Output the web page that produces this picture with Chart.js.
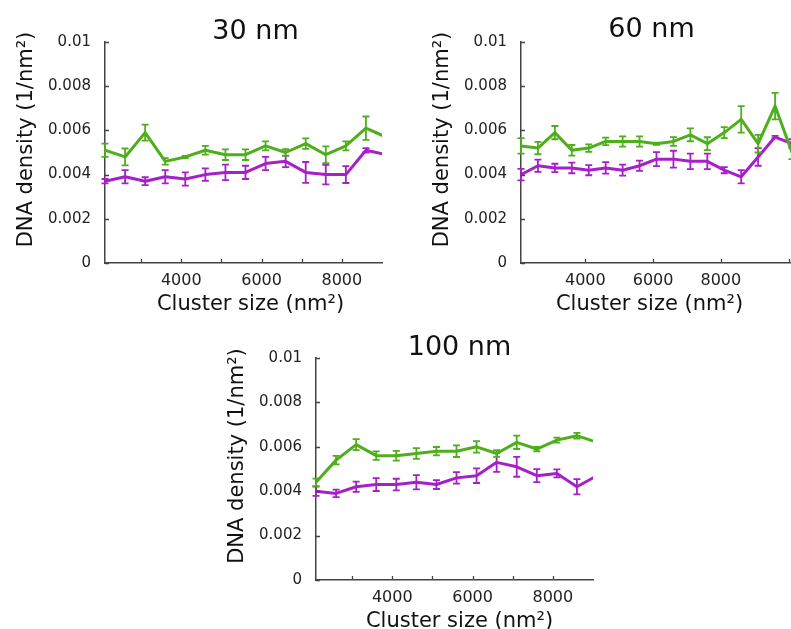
<!DOCTYPE html>
<html>
<head>
<meta charset="utf-8">
<script src="https://cdn.jsdelivr.net/npm/chart.js@4.4.1/dist/chart.umd.min.js"></script>
<style>
  html, body { margin: 0; padding: 0; background: #fff; overflow: hidden; width: 791px; height: 629px; position: relative; }
  canvas { position: absolute; }
</style>
</head>
<body>
<canvas id="panel30" width="400" height="320" style="left:0px;top:0px"></canvas>
<canvas id="panel60" width="410" height="320" style="left:400px;top:0px"></canvas>
<canvas id="panel100" width="400" height="309" style="left:210px;top:320px"></canvas>
<script>
// Cluster size bins (nm^2)
const clusterSize = [2100, 2600, 3100, 3600, 4100, 4600, 5100, 5600, 6100, 6600, 7100, 7600, 8100, 8600, 9100, 9600, 10100];
const xTicksFine = [3000, 4000, 5000, 6000, 7000, 8000];
const xTicksCoarse = [4000, 6000, 8000, 10000];
const xTickLabels = [4000, 6000, 8000];
const yTicks = [0, 0.002, 0.004, 0.006, 0.008, 0.01];

// 30 nm
const green30     = [0.0051, 0.0048, 0.0059, 0.0046, 0.0048, 0.0051, 0.0049, 0.0049, 0.0053, 0.0050, 0.0054, 0.0049, 0.0053, 0.0061, 0.0057];
const green30Err  = [0.0003, 0.00038, 0.00036, 0.00015, 0.00005, 0.0002, 0.00024, 0.00024, 0.0002, 0.00015, 0.00024, 0.00038, 0.0002, 0.00053, 0.0003];
const purple30    = [0.0037, 0.0039, 0.0037, 0.0039, 0.0038, 0.0040, 0.0041, 0.0041, 0.0045, 0.0046, 0.0041, 0.0040, 0.0040, 0.0051, 0.0049];
const purple30Err = [0.0001, 0.0003, 0.00018, 0.0003, 0.0003, 0.00028, 0.00035, 0.0003, 0.0003, 0.00026, 0.00047, 0.00044, 0.00038, 0.0001, 0.0002];

// 60 nm
const green60     = [0.0053, 0.0052, 0.0059, 0.0051, 0.0052, 0.0055, 0.0055, 0.0055, 0.0054, 0.0055, 0.0058, 0.0054, 0.0059, 0.0065, 0.0054, 0.0071, 0.0050];
const green60Err  = [0.00035, 0.00028, 0.0003, 0.00024, 0.00017, 0.00017, 0.00023, 0.00023, 0.00005, 0.0002, 0.00029, 0.00029, 0.00025, 0.0006, 0.0004, 0.0006, 0.0003];
const purple60    = [0.0040, 0.0044, 0.0043, 0.0043, 0.0042, 0.0043, 0.0042, 0.0044, 0.0047, 0.0047, 0.0046, 0.0046, 0.0042, 0.0039, 0.0048, 0.0057, 0.0054];
const purple60Err = [0.00026, 0.00028, 0.00019, 0.00024, 0.00023, 0.00026, 0.00025, 0.00023, 0.00032, 0.00038, 0.00035, 0.00035, 0.00014, 0.0003, 0.0004, 0.00005, 0.0002];

// 100 nm
const green100     = [0.0044, 0.0054, 0.0061, 0.0056, 0.0056, 0.0057, 0.0058, 0.0058, 0.0060, 0.0057, 0.0062, 0.0059, 0.0063, 0.0065, 0.0062];
const green100Err  = [0.00017, 0.00019, 0.00025, 0.00019, 0.00022, 0.00024, 0.00019, 0.00026, 0.00026, 0.00015, 0.0003, 0.0001, 0.00011, 0.00013, 0.0002];
const purple100    = [0.0040, 0.0039, 0.0042, 0.0043, 0.0043, 0.0044, 0.0043, 0.0046, 0.0047, 0.0053, 0.0051, 0.0047, 0.0048, 0.0042, 0.0047];
const purple100Err = [0.00021, 0.00017, 0.00023, 0.00029, 0.00026, 0.00032, 0.0002, 0.00026, 0.00033, 0.00043, 0.00045, 0.00029, 0.00018, 0.00034, 0.0002];

const GREEN = '#4eae1c';
const PURPLE = '#a620c8';
const AXIS = '#444444';
const FONT = '"DejaVu Sans", Verdana, sans-serif';

// Vertical error bars with caps, drawn right after each line
const errorBars = {
  id: 'errorBars',
  afterDatasetDraw(chart, args) {
    const ds = chart.data.datasets[args.index];
    if (!ds.errors) return;
    const { ctx, scales: { x, y } } = chart;
    ctx.save();
    ctx.strokeStyle = ds.borderColor;
    ctx.lineWidth = 1.8;
    ds.data.forEach((p, j) => {
      if (p.x < x.min || p.x > x.max) return;
      const px = x.getPixelForValue(p.x);
      const top = y.getPixelForValue(p.y + ds.errors[j]);
      const bot = y.getPixelForValue(p.y - ds.errors[j]);
      ctx.beginPath();
      ctx.moveTo(px, top); ctx.lineTo(px, bot);
      ctx.moveTo(px - 3.5, top); ctx.lineTo(px + 3.5, top);
      ctx.moveTo(px - 3.5, bot); ctx.lineTo(px + 3.5, bot);
      ctx.stroke();
    });
    ctx.restore();
  }
};

// Tick marks pointing into the plot area
const innerTicks = {
  id: 'innerTicks',
  afterDraw(chart) {
    const { ctx, chartArea, scales: { x, y } } = chart;
    ctx.save();
    ctx.strokeStyle = AXIS;
    ctx.lineWidth = 1.3;
    ctx.beginPath();
    x.ticks.forEach(t => {
      const px = Math.round(x.getPixelForValue(t.value)) + 0.5;
      ctx.moveTo(px, chartArea.bottom); ctx.lineTo(px, chartArea.bottom - 4);
    });
    y.ticks.forEach(t => {
      const py = Math.round(y.getPixelForValue(t.value)) + 0.5;
      ctx.moveTo(chartArea.left, py); ctx.lineTo(chartArea.left + 4, py);
    });
    ctx.stroke();
    ctx.restore();
  }
};

// Panel title and axis titles
const panelText = {
  id: 'panelText',
  afterDraw(chart, args, opts) {
    const { ctx, chartArea } = chart;
    const cx = (chartArea.left + chartArea.right) / 2;
    const cy = (chartArea.top + chartArea.bottom) / 2;
    ctx.save();
    ctx.fillStyle = '#111';
    ctx.textAlign = 'center';
    ctx.textBaseline = 'alphabetic';
    ctx.font = '27px ' + FONT;
    ctx.fillText(opts.title, cx + opts.titleDx, chartArea.top - opts.titleGap);

    ctx.font = '21px ' + FONT;
    ctx.fillText('Cluster size (nm²)', cx + opts.xLabelDx, chartArea.bottom + 47);

    ctx.textBaseline = 'middle';
    ctx.translate(chartArea.left - 78, cy + opts.yLabelDy);
    ctx.rotate(-Math.PI / 2);
    ctx.fillText('DNA density (1/nm²)', 0, 0);
    ctx.restore();
  }
};

function points(values) {
  return values.map((v, i) => ({ x: clusterSize[i], y: v }));
}

function makePanel(id, cfg) {
  return new Chart(document.getElementById(id), {
    type: 'line',
    data: {
      datasets: [
        { data: points(cfg.green), errors: cfg.greenErr, borderColor: GREEN },
        { data: points(cfg.purple), errors: cfg.purpleErr, borderColor: PURPLE }
      ].map(d => Object.assign(d, {
        borderWidth: 3, pointRadius: 0, pointHoverRadius: 0, tension: 0, fill: false, clip: 0,
        borderJoinStyle: 'round', borderCapStyle: 'butt'
      }))
    },
    options: {
      responsive: false,
      animation: false,
      devicePixelRatio: 1,
      layout: { padding: { top: cfg.top, right: cfg.right, bottom: 0, left: 0 } },
      plugins: {
        legend: { display: false },
        tooltip: { enabled: false },
        panelText: { title: cfg.title, titleDx: cfg.titleDx, titleGap: cfg.titleGap, xLabelDx: cfg.xLabelDx, yLabelDy: -13 }
      },
      scales: {
        x: {
          type: 'linear',
          min: 2100,
          max: cfg.xMax,
          grid: { display: false, drawTicks: false },
          border: { display: true, color: AXIS, width: 1.5 },
          afterBuildTicks: s => { s.ticks = cfg.xTicks.map(v => ({ value: v })); },
          ticks: {
            autoSkip: false,
            maxRotation: 0,
            padding: 8,
            color: '#222',
            font: { family: FONT, size: 16 },
            callback: v => (xTickLabels.includes(v) ? String(v) : '')
          },
          afterFit: s => { s.height = cfg.xAxisHeight; }
        },
        y: {
          min: 0,
          max: 0.01,
          grid: { display: false, drawTicks: false },
          border: { display: true, color: AXIS, width: 1.5 },
          afterBuildTicks: s => { s.ticks = yTicks.map(v => ({ value: v })); },
          ticks: {
            padding: 14,
            color: '#222',
            font: { family: FONT, size: 15 },
            callback: v => (v === 0 ? '0' : String(parseFloat(v.toFixed(3))))
          },
          afterFit: s => { s.width = cfg.left; }
        }
      }
    },
    plugins: [errorBars, innerTicks, panelText]
  });
}

makePanel('panel30', {
  title: '30 nm', titleDx: 12, titleGap: 3, xLabelDx: 7,
  green: green30, greenErr: green30Err, purple: purple30, purpleErr: purple30Err,
  xMax: 9000, xTicks: xTicksFine, top: 42, right: 18, left: 105, xAxisHeight: 57
});

makePanel('panel60', {
  title: '60 nm', titleDx: -5, titleGap: 5, xLabelDx: -7,
  green: green60, greenErr: green60Err, purple: purple60, purpleErr: purple60Err,
  xMax: 10100, xTicks: xTicksCoarse, top: 42, right: 18, left: 121, xAxisHeight: 57
});

makePanel('panel100', {
  title: '100 nm', titleDx: 5, titleGap: 3, xLabelDx: 5,
  green: green100, greenErr: green100Err, purple: purple100, purpleErr: purple100Err,
  xMax: 9000, xTicks: xTicksFine, top: 38, right: 17, left: 106, xAxisHeight: 49
});
</script>
</body>
</html>
